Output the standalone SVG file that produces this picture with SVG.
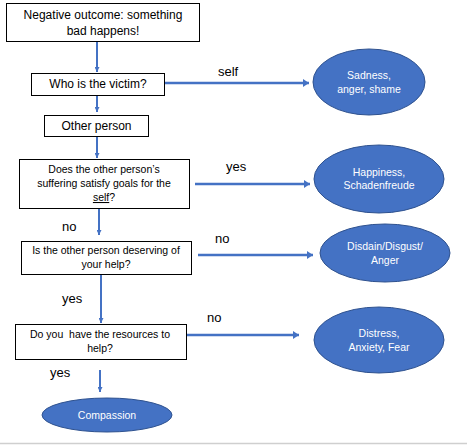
<svg xmlns="http://www.w3.org/2000/svg" width="467" height="445" viewBox="0 0 467 445">
<defs>
<style>
.box{fill:#fff;stroke:#000;stroke-width:1}
.oval{fill:#4472C4;stroke:#2F528F;stroke-width:1}
.t{font-family:"Liberation Sans",Arial,sans-serif;fill:#000;text-anchor:middle}
.big{font-size:12px}
.sm{font-size:10.5px}
.lbl{font-family:"Liberation Sans",Arial,sans-serif;font-size:13px;fill:#000}
.w{font-family:"Liberation Sans",Arial,sans-serif;font-size:10.5px;fill:#fff;text-anchor:middle}
.h{stroke:#4472C4;stroke-width:2.6;fill:none}
.v{stroke:#4472C4;stroke-width:2;fill:none}
</style>
<marker id="ah" viewBox="0 0 6 8" refX="6" refY="4" markerWidth="6" markerHeight="8" markerUnits="userSpaceOnUse" orient="auto">
<path d="M0,0 L6,4 L0,8 Z" fill="#4472C4"/>
</marker>
<marker id="av" viewBox="0 0 6 6" refX="6" refY="3" markerWidth="5" markerHeight="5" markerUnits="userSpaceOnUse" orient="auto">
<path d="M0,0 L6,3 L0,6 Z" fill="#4472C4"/>
</marker>
</defs>
<rect width="467" height="445" fill="#fff"/>
<line x1="0" y1="443.5" x2="467" y2="443.5" stroke="#cfcfcf" stroke-width="1.5"/>

<g id="connectors">
<line class="v" x1="97" y1="41" x2="97" y2="72" marker-end="url(#av)"/>
<line class="v" x1="97" y1="95" x2="97" y2="112" marker-end="url(#av)"/>
<line class="v" x1="97" y1="136" x2="97" y2="158" marker-end="url(#av)"/>
<line class="v" x1="99" y1="208" x2="99" y2="235" marker-end="url(#av)"/>
<line class="v" x1="101" y1="274" x2="101" y2="323" marker-end="url(#av)"/>
<line class="v" x1="100" y1="370" x2="100" y2="392" marker-end="url(#av)"/>
<line class="h" x1="164" y1="83" x2="309" y2="83" marker-end="url(#ah)"/>
<line class="h" x1="195" y1="184" x2="310" y2="184" marker-end="url(#ah)"/>
<line class="h" x1="198" y1="255" x2="313" y2="255" marker-end="url(#ah)"/>
<line class="h" x1="186" y1="335" x2="299" y2="335" marker-end="url(#ah)"/>
<text class="lbl" x="218" y="76">self</text>
<text class="lbl" x="226" y="171">yes</text>
<text class="lbl" x="62" y="231">no</text>
<text class="lbl" x="215" y="243">no</text>
<text class="lbl" x="62" y="303">yes</text>
<text class="lbl" x="207" y="322">no</text>
<text class="lbl" x="50" y="377">yes</text>
</g>

<g id="start">
<rect class="box" x="6.5" y="3.5" width="193" height="38"/>
<text class="t big" x="103" y="19">Negative outcome: something</text>
<text class="t big" x="103" y="35">bad happens!</text>
</g>
<g id="victim">
<rect class="box" x="31.5" y="73.5" width="133" height="22"/>
<text class="t big" x="98" y="88">Who is the victim?</text>
</g>
<g id="other">
<rect class="box" x="44.5" y="115.5" width="104" height="21"/>
<text class="t big" x="96.5" y="130">Other person</text>
</g>
<g id="satisfy">
<rect class="box" x="19.5" y="159.5" width="170" height="49"/>
<text class="t sm" x="104" y="173">Does the other person’s</text>
<text class="t sm" x="104" y="187">suffering satisfy goals for the</text>
<text class="t sm" x="104" y="201"><tspan text-decoration="underline">self</tspan>?</text>
</g>
<g id="deserving">
<rect class="box" x="21.5" y="241.5" width="170" height="33"/>
<text class="t sm" x="106" y="254">Is the other person deserving of</text>
<text class="t sm" x="106" y="268">your help?</text>
</g>
<g id="resources">
<rect class="box" x="15.5" y="324.5" width="171" height="35"/>
<text class="t sm" x="100" y="338" xml:space="preserve">Do you  have the resources to</text>
<text class="t sm" x="100" y="352">help?</text>
</g>
<g id="sadness">
<ellipse class="oval" cx="369" cy="82" rx="56" ry="33"/>
<text class="w" x="369" y="79">Sadness,</text>
<text class="w" x="369" y="93">anger, shame</text>
</g>
<g id="happiness">
<ellipse class="oval" cx="379" cy="179" rx="65" ry="34"/>
<text class="w" x="379" y="176">Happiness,</text>
<text class="w" x="379" y="189">Schadenfreude</text>
</g>
<g id="disdain">
<ellipse class="oval" cx="385" cy="253" rx="65" ry="29"/>
<text class="w" x="385" y="250">Disdain/Disgust/</text>
<text class="w" x="385" y="264">Anger</text>
</g>
<g id="distress">
<ellipse class="oval" cx="379" cy="340" rx="65" ry="33"/>
<text class="w" x="379" y="337">Distress,</text>
<text class="w" x="379" y="351">Anxiety, Fear</text>
</g>
<g id="compassion">
<ellipse class="oval" cx="107" cy="415" rx="65" ry="17"/>
<text class="w" x="107" y="419">Compassion</text>
</g>
</svg>
